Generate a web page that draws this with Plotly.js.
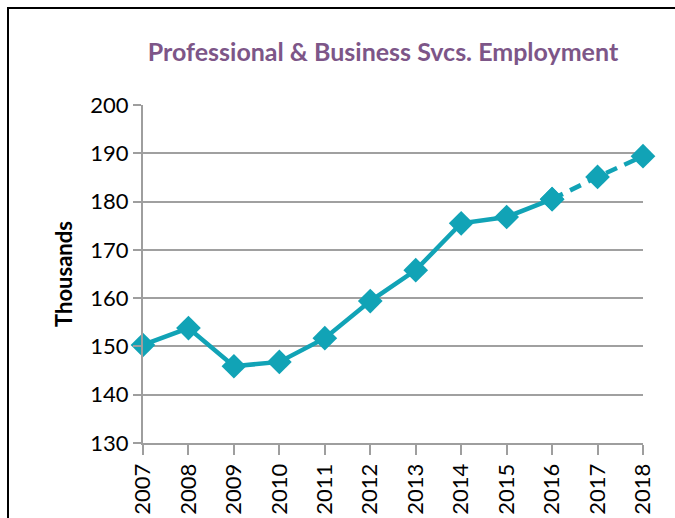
<!DOCTYPE html>
<html>
<head>
<meta charset="utf-8">
<script src="https://cdn.plot.ly/plotly-3.0.1.min.js"></script>
<style>
html,body{margin:0;padding:0;background:#fff;}
#wrap{position:relative;width:675px;height:518px;overflow:hidden;}
#chart{position:absolute;left:0;top:0;width:675px;height:518px;}
#frame{position:absolute;left:7px;top:7px;width:700px;height:600px;border-top:2.5px solid #000;border-left:2.5px solid #000;pointer-events:none;}
</style>
</head>
<body>
<div id="wrap"><div id="chart"></div><div id="frame"></div></div>
<script>
const years = [2007,2008,2009,2010,2011,2012,2013,2014,2015,2016,2017,2018];
const actualYears = [2007,2008,2009,2010,2011,2012,2013,2014,2015,2016];
const actualValues = [150.3,153.8,145.9,146.8,151.7,159.4,165.8,175.5,176.8,180.5];
const forecastYears = [2016,2017,2018];
const forecastValues = [180.5,185.1,189.4];
const yTicks = [130,140,150,160,170,180,190,200];

const teal = '#11A3B6';
const FF = 'Lato, "Open Sans", sans-serif';
const traces = [
  {x: forecastYears, y: forecastValues, type:'scatter', mode:'lines+markers', cliponaxis:false,
   line:{color:teal, width:4.5, dash:'12px,8px'},
   marker:{symbol:'diamond', size:19, color:teal}, hoverinfo:'skip'},
  {x: actualYears, y: actualValues, type:'scatter', mode:'lines+markers', cliponaxis:false,
   line:{color:teal, width:4.5},
   marker:{symbol:'diamond', size:19, color:teal}, hoverinfo:'skip'}
];
const layout = {
  width:675, height:518,
  margin:{l:143, r:32, t:105, b:75},
  paper_bgcolor:'#fff', plot_bgcolor:'#fff',
  showlegend:false,
  font:{family:FF, color:'#000'},
  title:{text:'Professional & Business Svcs. Employment', font:{size:25, color:'#7D5688', family:FF, weight:'bold'},
         x:0.48, xref:'paper', xanchor:'center', y:50, yref:'container', yanchor:'middle'},
  xaxis:{range:[2007,2018], tickvals:years, ticktext:years.map(String), tickangle:-90,
         showgrid:false, zeroline:false, showline:true, linecolor:'#9E9E9E', linewidth:2,
         ticks:'outside', ticklen:10, tickwidth:2, tickcolor:'#9E9E9E',
         tickfont:{size:22, family:FF}},
  yaxis:{range:[130,200], tickvals:yTicks, showgrid:true, gridcolor:'#A0A0A0', gridwidth:2,
         zeroline:false, showline:true, linecolor:'#9E9E9E', linewidth:2,
         ticks:'outside', ticklen:8, tickwidth:2, tickcolor:'#9E9E9E',
         tickfont:{size:22, family:FF},
         title:{text:'Thousands', font:{size:22, weight:'bold', family:FF}, standoff:12}}
};
Plotly.newPlot('chart', traces, layout, {staticPlot:true, displayModeBar:false});
</script>
</body>
</html>
